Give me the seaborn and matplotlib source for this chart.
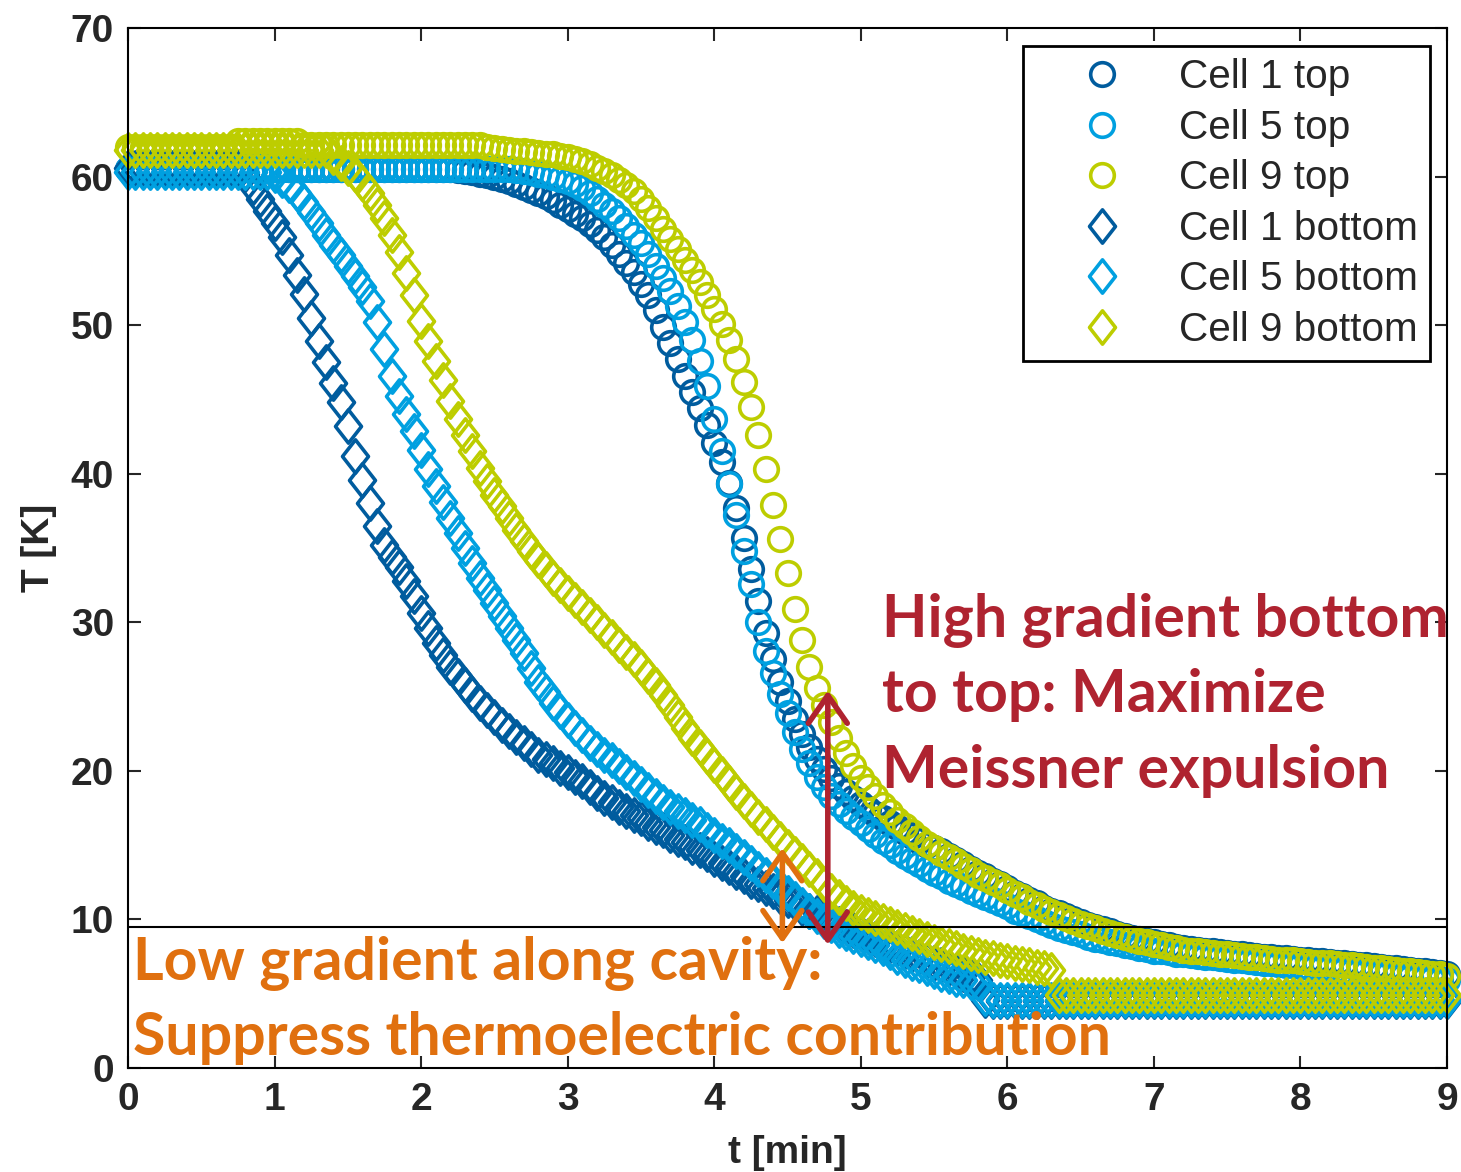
import numpy as np
import pandas as pd
import matplotlib
matplotlib.use("Agg")
import matplotlib.pyplot as plt
from matplotlib.path import Path
import seaborn as sns

# ---------------- data ----------------
time_min = np.round(np.arange(181) * 0.05, 2)   # sampling grid, 0 ... 9 min

cell1_top = [
    60.5,60.5,60.5,60.5,60.5,60.5,60.5,60.5,60.5,60.5,60.5,60.5,60.5,60.5,60.5,60.5,60.5,60.5,60.5,60.5,
    60.5,60.5,60.5,60.5,60.5,60.5,60.5,60.5,60.5,60.5,60.5,60.5,60.5,60.5,60.5,60.5,60.5,60.5,60.5,60.5,
    60.5,60.5,60.5,60.5,60.5,60.45,60.4,60.3,60.2,60.1,60.0,59.85,59.7,59.5,59.3,59.1,58.9,58.7,58.4,58.1,
    57.8,57.5,57.2,56.8,56.4,55.9,55.4,54.8,54.2,53.6,52.8,52.0,51.0,49.9,48.8,47.7,46.6,45.5,44.4,43.3,
    42.1,40.8,39.4,37.7,35.7,33.6,31.4,29.3,27.5,26.0,24.7,23.5,22.5,21.6,20.8,20.1,19.5,19.0,18.6,18.2,
    17.8,17.4,17.1,16.8,16.5,16.2,15.9,15.6,15.3,15.0,14.8,14.6,14.3,14.0,13.7,13.4,13.1,12.9,12.6,12.4,
    12.1,11.8,11.6,11.3,11.1,10.8,10.6,10.4,10.2,10.0,9.8,9.65,9.5,9.35,9.2,9.05,8.9,8.75,8.65,8.55,
    8.45,8.35,8.25,8.15,8.05,8.0,7.95,7.9,7.85,7.8,7.75,7.7,7.65,7.6,7.55,7.5,7.45,7.4,7.38,7.35,
    7.3,7.25,7.2,7.18,7.15,7.1,7.05,7.0,6.95,6.9,6.85,6.8,6.75,6.7,6.65,6.6,6.55,6.5,6.45,6.4,
    6.3]

cell5_top = [
    60.5,60.5,60.5,60.5,60.5,60.5,60.5,60.5,60.5,60.5,60.5,60.5,60.5,60.5,60.5,60.5,60.5,60.5,60.5,60.5,
    60.5,60.5,60.5,60.5,60.5,60.5,60.5,60.5,60.5,60.5,60.5,60.5,60.5,60.5,60.5,60.5,60.5,60.5,60.5,60.5,
    60.5,60.5,60.5,60.5,60.5,60.5,60.5,60.5,60.5,60.5,60.5,60.5,60.5,60.45,60.4,60.3,60.2,60.1,60.0,59.85,
    59.7,59.5,59.2,58.9,58.5,58.1,57.7,57.2,56.7,56.1,55.5,54.8,54.0,53.2,52.3,51.3,50.2,49.0,47.6,45.9,
    43.7,41.5,39.3,37.2,34.8,32.6,30.0,28.1,26.6,25.2,23.9,22.6,21.5,20.5,19.6,18.9,18.3,17.8,17.3,16.9,
    16.5,16.1,15.7,15.3,15.0,14.6,14.3,14.0,13.7,13.4,13.1,12.9,12.6,12.4,12.2,11.9,11.7,11.5,11.3,11.1,
    10.9,10.6,10.4,10.2,10.0,9.8,9.6,9.45,9.3,9.15,9.0,8.85,8.7,8.6,8.5,8.4,8.3,8.2,8.1,8.0,
    7.9,7.85,7.8,7.7,7.65,7.6,7.55,7.5,7.45,7.4,7.35,7.3,7.25,7.2,7.15,7.1,7.05,7.0,6.95,6.9,
    6.85,6.8,6.78,6.75,6.7,6.65,6.6,6.55,6.5,6.45,6.4,6.35,6.3,6.25,6.2,6.15,6.1,6.05,6.0,5.95,
    5.9]

cell9_top = [
    62.0,62.0,62.0,62.0,62.0,62.0,62.0,62.0,62.0,62.0,62.0,62.0,62.0,62.0,62.0,62.4,62.4,62.4,62.4,62.4,
    62.4,62.4,62.4,62.4,62.1,62.1,62.1,62.1,62.1,62.1,62.1,62.1,62.1,62.1,62.1,62.1,62.1,62.1,62.1,62.1,
    62.1,62.1,62.1,62.1,62.1,62.1,62.1,62.1,62.1,62.0,61.9,61.85,61.8,61.75,61.7,61.65,61.6,61.55,61.5,61.4,
    61.3,61.2,61.05,60.85,60.6,60.35,60.1,59.8,59.4,59.0,58.5,57.9,57.2,56.5,55.8,55.1,54.4,53.7,52.9,52.0,
    51.1,50.1,49.0,47.7,46.2,44.5,42.6,40.3,37.9,35.6,33.3,30.9,28.8,27.0,25.6,24.4,23.3,22.2,21.2,20.3,
    19.5,18.9,18.3,17.7,17.2,16.7,16.3,15.9,15.5,15.1,14.8,14.5,14.2,13.9,13.6,13.3,13.0,12.8,12.5,12.3,
    12.0,11.7,11.5,11.2,11.0,10.7,10.5,10.3,10.1,9.9,9.7,9.55,9.4,9.25,9.1,8.95,8.8,8.65,8.55,8.45,
    8.35,8.25,8.15,8.05,7.95,7.9,7.85,7.8,7.75,7.7,7.65,7.6,7.55,7.5,7.45,7.4,7.35,7.3,7.28,7.25,
    7.2,7.15,7.1,7.08,7.05,7.0,6.95,6.9,6.85,6.8,6.75,6.7,6.65,6.6,6.55,6.5,6.45,6.4,6.35,6.3,
    6.2]

cell1_bottom = [
    60.6,60.6,60.6,60.6,60.6,60.6,60.6,60.6,60.6,60.6,60.6,60.6,60.6,60.6,60.6,60.6,60.2,59.3,58.5,57.7,
    56.9,55.9,54.7,53.4,52.1,50.5,48.9,47.5,46.1,44.8,43.2,41.2,39.6,38.0,36.5,35.2,34.4,33.7,32.8,31.8,
    30.6,29.6,28.6,27.8,27.0,26.4,25.8,25.2,24.6,24.1,23.6,23.1,22.7,22.3,21.9,21.5,21.1,20.8,20.5,20.2,
    19.9,19.6,19.3,18.9,18.5,18.2,17.9,17.6,17.3,17.0,16.8,16.5,16.2,16.0,15.7,15.4,15.2,14.9,14.7,14.4,
    14.1,13.8,13.5,13.2,12.9,12.6,12.4,12.1,11.9,11.6,11.3,11.1,10.8,10.6,10.4,10.1,9.9,9.7,9.5,9.3,
    9.1,8.9,8.7,8.5,8.3,8.1,7.9,7.7,7.5,7.3,7.1,6.9,6.7,6.5,6.3,6.1,5.9,4.6,4.5,4.5,
    4.5,4.5,4.5,4.5,4.5,4.5,4.5,4.5,4.5,4.5,4.5,4.5,4.5,4.5,4.5,4.5,4.5,4.5,4.5,4.5,
    4.5,4.5,4.5,4.5,4.5,4.5,4.5,4.5,4.5,4.5,4.5,4.5,4.5,4.5,4.5,4.5,4.5,4.5,4.5,4.5,
    4.5,4.5,4.5,4.5,4.5,4.5,4.5,4.5,4.5,4.5,4.5,4.5,4.5,4.5,4.5,4.5,4.5,4.5,4.5,4.5,
    4.5]

cell5_bottom = [
    60.3,60.3,60.3,60.3,60.3,60.3,60.3,60.3,60.3,60.3,60.3,60.3,60.3,60.3,60.3,60.3,60.3,60.3,60.3,60.3,
    60.1,59.8,59.4,58.9,58.3,57.6,56.9,56.1,55.4,54.7,54.0,53.3,52.6,51.6,50.2,48.4,46.6,45.2,44.0,42.9,
    41.6,40.3,39.2,38.1,37.0,36.0,35.0,34.0,33.0,32.2,31.3,30.4,29.6,28.8,27.9,26.9,26.0,25.3,24.6,24.0,
    23.4,22.9,22.4,21.9,21.5,21.1,20.7,20.3,19.9,19.5,19.1,18.7,18.3,17.9,17.6,17.3,17.0,16.7,16.4,16.0,
    15.7,15.3,15.0,14.6,14.2,13.8,13.4,13.0,12.6,12.2,11.8,11.4,11.0,10.6,10.2,9.9,9.6,9.3,9.1,8.9,
    8.7,8.5,8.3,8.1,7.8,7.5,7.3,7.1,6.9,6.7,6.5,6.3,6.2,6.0,5.9,5.8,5.7,4.7,4.6,4.6,
    4.6,4.6,4.6,4.6,4.6,4.6,4.6,4.6,4.6,4.6,4.6,4.6,4.6,4.6,4.6,4.6,4.6,4.6,4.6,4.6,
    4.6,4.6,4.6,4.6,4.6,4.6,4.6,4.6,4.6,4.6,4.6,4.6,4.6,4.6,4.6,4.6,4.6,4.6,4.6,4.6,
    4.6,4.6,4.6,4.6,4.6,4.6,4.6,4.6,4.6,4.6,4.6,4.6,4.6,4.6,4.6,4.6,4.6,4.6,4.6,4.6,
    4.6]

cell9_bottom = [
    61.8,61.8,61.8,61.8,61.8,61.8,61.8,61.8,61.8,61.8,61.8,61.8,61.8,61.8,61.8,61.8,61.8,61.8,61.8,61.8,
    61.8,61.8,61.8,61.8,61.8,61.8,61.8,61.8,61.3,60.9,60.6,60.2,59.6,58.9,58.1,57.2,56.1,54.9,53.5,52.0,
    50.3,48.9,47.6,46.3,44.9,43.7,42.6,41.5,40.4,39.5,38.6,37.8,37.0,36.2,35.5,34.8,34.2,33.6,33.0,32.5,
    32.0,31.5,31.0,30.5,30.0,29.5,29.0,28.5,28.0,27.5,27.0,26.4,25.8,25.1,24.4,23.6,22.9,22.2,21.6,21.0,
    20.4,19.8,19.2,18.6,18.0,17.4,16.9,16.4,15.9,15.4,14.9,14.4,13.9,13.4,12.9,12.4,11.9,11.5,11.1,10.8,
    10.5,10.3,10.1,9.9,9.7,9.5,9.3,9.1,8.9,8.7,8.5,8.35,8.2,8.05,7.9,7.75,7.6,7.5,7.4,7.3,
    7.2,7.1,7.0,6.9,6.8,6.7,6.6,4.9,4.9,4.9,4.9,4.9,4.9,4.9,4.9,4.9,4.9,4.9,4.9,4.9,
    4.9,4.9,4.9,4.9,4.9,4.9,4.9,4.9,4.9,4.9,4.9,4.9,4.9,4.9,4.9,4.9,4.9,4.9,4.9,4.9,
    4.9,4.9,4.9,4.9,4.9,4.9,4.9,4.9,4.9,4.9,4.9,4.9,4.9,4.9,4.9,4.9,4.9,4.9,4.9,4.9,
    4.9]

series_labels = ["Cell 1 top", "Cell 5 top", "Cell 9 top",
                 "Cell 1 bottom", "Cell 5 bottom", "Cell 9 bottom"]
series_values = [cell1_top, cell5_top, cell9_top,
                 cell1_bottom, cell5_bottom, cell9_bottom]

tc_line = 9.5                       # horizontal reference line [K]
red_arrow = (4.775, 25.4, 8.3)      # t, T_top, T_bottom
orange_arrow = (4.465, 14.8, 8.4)

x_ticks = list(range(0, 10))
y_ticks = list(range(0, 80, 10))

# ---------------- style ----------------
sns.set_style("ticks")
plt.rcParams["font.family"] = ["Liberation Sans", "DejaVu Sans"]

dark_blue = "#005C9E"
light_blue = "#00A0E0"
lime = "#BDCD00"
colors = [dark_blue, light_blue, lime, dark_blue, light_blue, lime]

diamond = Path([(0, 1), (0.78, 0), (0, -1), (-0.78, 0), (0, 1)],
               [Path.MOVETO, Path.LINETO, Path.LINETO, Path.LINETO, Path.CLOSEPOLY])
markers = ["o", "o", "o", diamond, diamond, diamond]
msizes = [17, 17, 17, 24, 24, 24]

fig = plt.figure(figsize=(14.61, 11.72), dpi=100)
ax = fig.add_axes([128 / 1461, 1 - 1068 / 1172, (1447 - 128) / 1461, (1068 - 28) / 1172])

df = pd.DataFrame({"t": np.tile(time_min, 6),
                   "T": np.concatenate([np.asarray(v, float) for v in series_values]),
                   "series": np.repeat(series_labels, len(time_min))})

for lab, col, mk, ms in zip(series_labels, colors, markers, msizes):
    sub = df[df["series"] == lab]
    sns.lineplot(data=sub, x="t", y="T", ax=ax, color=col, marker=mk,
                 markersize=ms, markerfacecolor="none", markeredgecolor=col,
                 markeredgewidth=2.6, linestyle="none", estimator=None,
                 sort=False, label=lab, clip_on=False)

ax.axhline(tc_line, color="black", lw=1.5, zorder=5)

ax.set_xlim(0, 9)
ax.set_ylim(0, 70)
ax.set_xticks(x_ticks)
ax.set_yticks(y_ticks)
ax.tick_params(direction="in", length=9, width=1.5, top=True, right=True,
               labelsize=28, pad=10)
for lbl in ax.get_xticklabels() + ax.get_yticklabels():
    lbl.set_fontweight("bold")
for sp in ax.spines.values():
    sp.set_linewidth(1.5)
    sp.set_color("black")
    sp.set_visible(True)

ax.set_xlabel("t [min]", fontsize=28, fontweight="bold", labelpad=12)
ax.set_ylabel("T [K]", fontsize=28, fontweight="bold", labelpad=10)

leg = ax.legend(loc="upper right", bbox_to_anchor=(1 - 17 / 1319, 1 - 18 / 1040),
                fontsize=29.2, frameon=True, fancybox=False, shadow=False,
                borderpad=0.3, labelspacing=0.31, handlelength=3.3,
                handletextpad=0.25, borderaxespad=0.0, numpoints=1)
leg.get_frame().set_edgecolor("black")
leg.get_frame().set_linewidth(2.0)
leg.get_frame().set_alpha(1)

red = "#AF2330"
orange = "#E0700F"
ann_font = dict(family=["Lato", "DejaVu Sans"], fontweight="bold", fontsize=42.5)
for txt, yb in zip(["High gradient bottom", "to top: Maximize", "Meissner expulsion"],
                   [29.0, 23.95, 18.85]):
    ax.text(5.145, yb, txt, color=red, va="baseline", ha="left", zorder=8, **ann_font)
for txt, yb in zip(["Low gradient along cavity:", "Suppress thermoelectric contribution"],
                   [5.92, 0.87]):
    ax.text(0.034, yb, txt, color=orange, va="baseline", ha="left", zorder=8, **ann_font)

for (xa, y1, y2), col in [(red_arrow, red), (orange_arrow, orange)]:
    ax.annotate("", xy=(xa, y1), xytext=(xa, y2),
                arrowprops=dict(arrowstyle="<->,head_length=0.4,head_width=0.28",
                                color=col, lw=4, mutation_scale=50,
                                shrinkA=0, shrinkB=0),
                zorder=9)

fig.savefig("out.png", dpi=100)
